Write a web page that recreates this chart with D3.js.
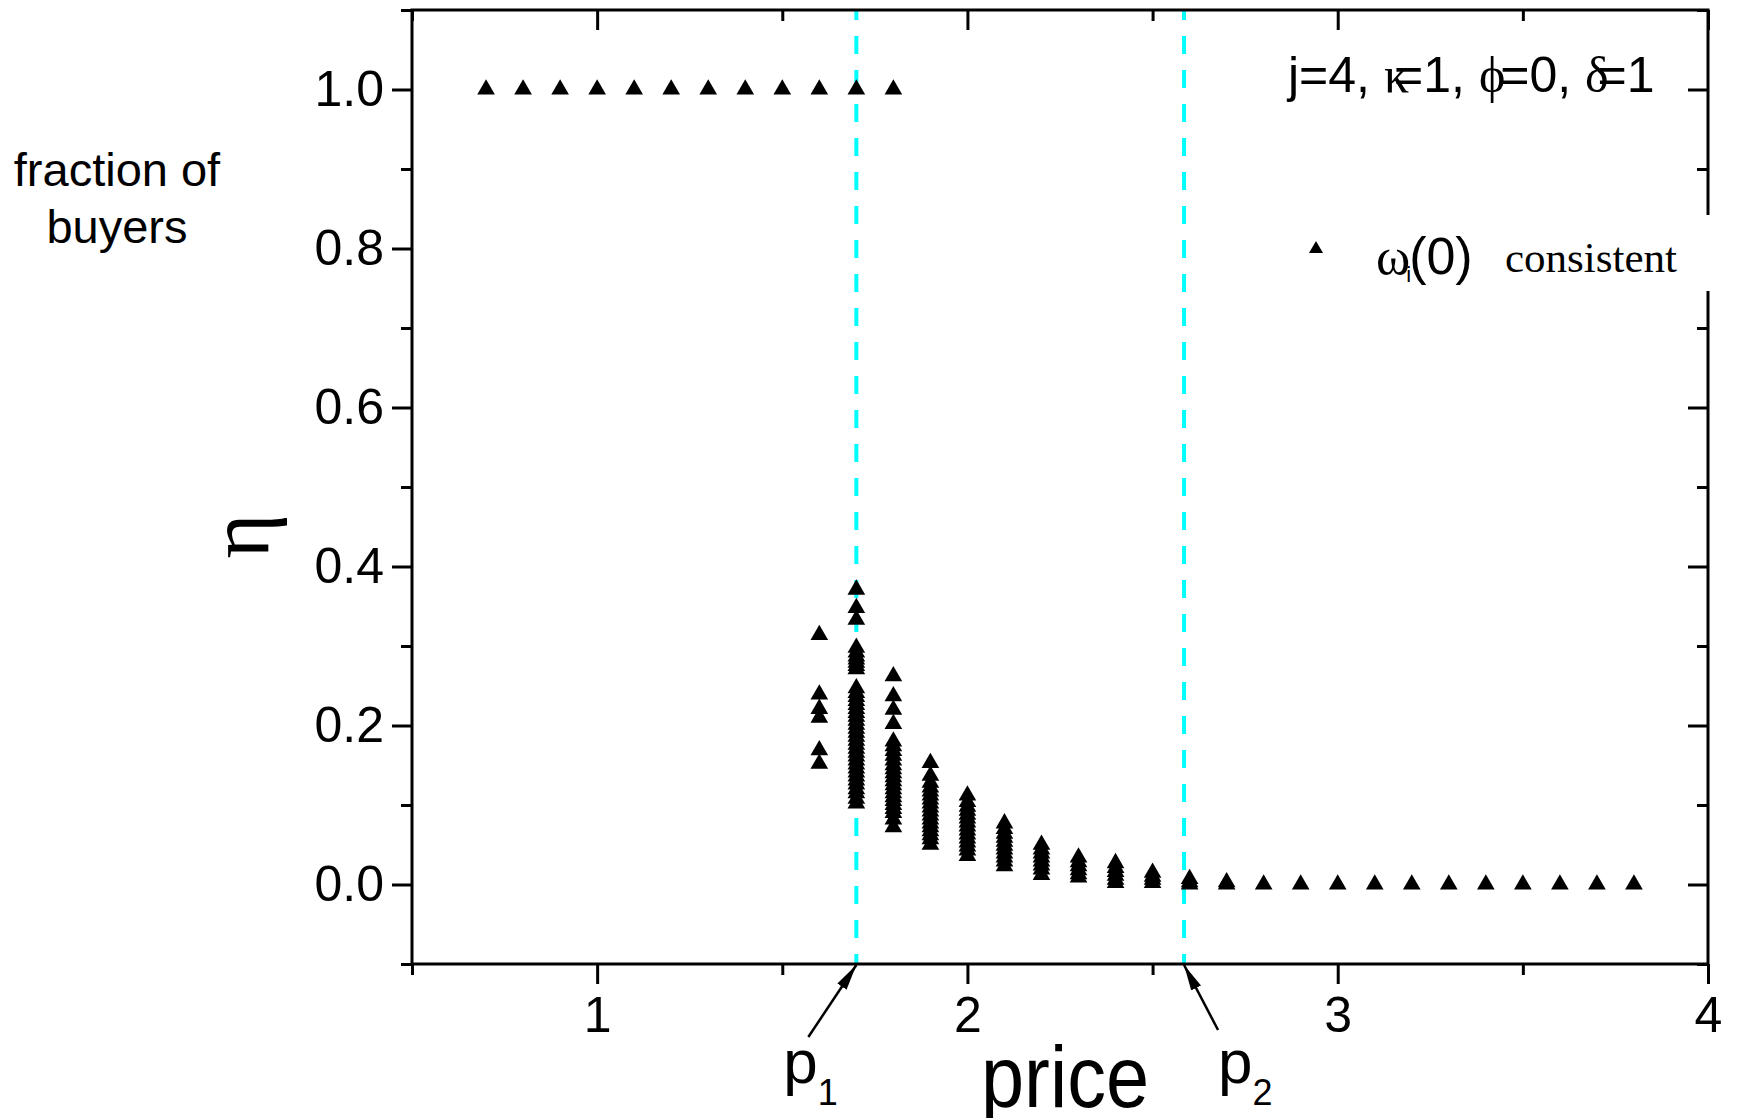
<!DOCTYPE html>
<html>
<head>
<meta charset="utf-8">
<script src="https://cdn.jsdelivr.net/npm/d3@7"></script>
<style>
	body { margin: 0; background: #fff; }
	svg { display: block; }
	text { font-family: "Liberation Sans", Arial, sans-serif; fill: #000; }
	.serif { font-family: "Liberation Serif", "DejaVu Serif", serif; }
</style>
</head>
<body>
<div id="chart"></div>
<script>
/**
 * Fraction of buyers vs price, consistent fixed points.
 */

// prices where everybody buys (eta = 1)
const pricesAllBuy = [0.7, 0.8, 0.9, 1.0, 1.1, 1.2, 1.3, 1.4, 1.5, 1.6, 1.7, 1.8];
// prices where nobody buys (eta = 0)
const pricesNoBuy = [2.8, 2.9, 3.0, 3.1, 3.2, 3.3, 3.4, 3.5, 3.6, 3.7, 3.8];

// columns of the transition region
const columnPrices = [1.6, 1.7, 1.8, 1.9, 2.0, 2.1, 2.2, 2.3, 2.4, 2.5, 2.6, 2.7];
const eta16 = [0.314, 0.239, 0.221, 0.210, 0.169, 0.152];
const eta17 = [0.371, 0.348, 0.333, 0.298, 0.292, 0.287, 0.283, 0.279, 0.275, 0.271,
	0.247, 0.241, 0.236, 0.231, 0.226, 0.221, 0.216, 0.211, 0.206, 0.201, 0.196, 0.191,
	0.186, 0.181, 0.176, 0.171, 0.166, 0.161, 0.156, 0.151, 0.146, 0.141, 0.136, 0.131,
	0.126, 0.120, 0.115, 0.108, 0.102];
const eta18 = [0.262, 0.237, 0.220, 0.202, 0.180, 0.174, 0.168, 0.162, 0.156, 0.150,
	0.145, 0.140, 0.135, 0.130, 0.125, 0.120, 0.115, 0.110, 0.105, 0.100, 0.095, 0.090,
	0.082, 0.072];
const eta19 = [0.153, 0.137, 0.128, 0.122, 0.117, 0.112, 0.107, 0.102, 0.097, 0.092,
	0.087, 0.082, 0.077, 0.072, 0.067, 0.062, 0.057, 0.050];
const eta20 = [0.112, 0.104, 0.098, 0.093, 0.088, 0.083, 0.078, 0.073, 0.068, 0.063,
	0.058, 0.053, 0.048, 0.043, 0.036];
const eta21 = [0.077, 0.070, 0.064, 0.059, 0.054, 0.049, 0.044, 0.039, 0.034, 0.029, 0.023];
const eta22 = [0.050, 0.044, 0.039, 0.034, 0.029, 0.024, 0.019, 0.012];
const eta23 = [0.034, 0.028, 0.023, 0.018, 0.013, 0.009];
const eta24 = [0.027, 0.021, 0.016, 0.011, 0.006, 0.002];
const eta25 = [0.015, 0.010, 0.006, 0.002];
const eta26 = [0.007, 0.003, 0.000];
const eta27 = [0.003, 0.000];
const columnEtas = [eta16, eta17, eta18, eta19, eta20, eta21, eta22, eta23, eta24, eta25, eta26, eta27];

// thresholds p1, p2
const thresholdPrices = [1.70, 2.585];
const thresholdNames = ["1", "2"];

// ticks
const priceTicks = [1, 2, 3, 4];
const priceMinorTicks = [0.5, 1.5, 2.5, 3.5];
const etaTicks = [0.0, 0.2, 0.4, 0.6, 0.8, 1.0];
const etaMinorTicks = [-0.1, 0.1, 0.3, 0.5, 0.7, 0.9, 1.1];


(function (d3) {
	"use strict";

	const totalWidth = 1743, totalHeight = 1118;
	const margin = { top: 10, right: 35, bottom: 154, left: 412 };
	const width = totalWidth - margin.left - margin.right;
	const height = totalHeight - margin.top - margin.bottom;

	const x = d3.scaleLinear().domain([0.5, 4]).range([0, width]);
	const y = d3.scaleLinear().domain([-0.1, 1.1]).range([height, 0]);

	const svg = d3.select("#chart")
		.append("svg")
		.attr("width", totalWidth)
		.attr("height", totalHeight);

	const g = svg.append("g")
		.attr("transform", "translate(" + margin.left + "," + margin.top + ")");

	// build point list from the arrays
	let points = pricesAllBuy.map(p => [p, 1.0]);
	columnPrices.forEach((p, i) => {
		columnEtas[i].forEach(e => points.push([p, e]));
	});
	pricesNoBuy.forEach(p => points.push([p, 0.0]));

	/*** dashed threshold lines ***/
	g.selectAll(".threshold")
		.data(thresholdPrices)
		.enter().append("line")
		.attr("class", "threshold")
		.attr("x1", d => x(d)).attr("x2", d => x(d))
		.attr("y1", 0).attr("y2", height)
		.attr("stroke", "#00ffff")
		.attr("stroke-width", 4)
		.attr("stroke-dasharray", "18,16")
		.attr("stroke-dashoffset", 8);

	/*** data ***/
	const triangle = d3.symbol().type(d3.symbolTriangle).size(135);
	g.selectAll(".pt")
		.data(points)
		.enter().append("path")
		.attr("class", "pt")
		.attr("d", triangle)
		.attr("fill", "#000")
		.attr("transform", d => "translate(" + x(d[0]) + "," + y(d[1]) + ")");

	/*** axes ***/
	function styleAxis(sel, labels) {
		sel.attr("font-size", 50).attr("font-family", null);
		sel.select(".domain").remove();
		sel.selectAll(".tick line").attr("stroke", "#000").attr("stroke-width", 3);
		if (!labels) sel.selectAll(".tick text").remove();
	}

	// bottom
	g.append("g").attr("transform", "translate(0," + height + ")")
		.call(d3.axisBottom(x).tickValues(priceTicks).tickSize(20).tickPadding(12).tickFormat(d3.format("d")))
		.call(styleAxis, true);
	g.append("g").attr("transform", "translate(0," + height + ")")
		.call(d3.axisBottom(x).tickValues(priceMinorTicks).tickSize(11))
		.call(styleAxis, false);
	// top (ticks inward)
	g.append("g")
		.call(d3.axisBottom(x).tickValues(priceTicks).tickSize(20))
		.call(styleAxis, false);
	g.append("g")
		.call(d3.axisBottom(x).tickValues(priceMinorTicks).tickSize(11))
		.call(styleAxis, false);
	// left
	g.append("g")
		.call(d3.axisLeft(y).tickValues(etaTicks).tickSize(20).tickPadding(8).tickFormat(d3.format(".1f")))
		.call(styleAxis, true);
	g.append("g")
		.call(d3.axisLeft(y).tickValues(etaMinorTicks).tickSize(11))
		.call(styleAxis, false);
	// right (ticks inward)
	g.append("g").attr("transform", "translate(" + width + ",0)")
		.call(d3.axisLeft(y).tickValues(etaTicks).tickSize(20))
		.call(styleAxis, false);
	g.append("g").attr("transform", "translate(" + width + ",0)")
		.call(d3.axisLeft(y).tickValues(etaMinorTicks).tickSize(11))
		.call(styleAxis, false);

	// frame
	g.append("rect")
		.attr("x", 0).attr("y", 0)
		.attr("width", width).attr("height", height)
		.attr("fill", "none")
		.attr("stroke", "#000")
		.attr("stroke-width", 3);

	/*** legend (white box hides the right axis) ***/
	svg.append("rect")
		.attr("x", 1290).attr("y", 215)
		.attr("width", 440).attr("height", 76)
		.attr("fill", "#fff");
	svg.append("path")
		.attr("d", d3.symbol().type(d3.symbolTriangle).size(85))
		.attr("transform", "translate(1316,249)");
	const leg = svg.append("text").attr("x", 1376).attr("y", 274).attr("font-size", 52);
	leg.append("tspan").attr("class", "serif").text("ω");
	leg.append("tspan").attr("font-size", 22).attr("dx", -4).attr("dy", 8).text("i");
	leg.append("tspan").attr("dx", -2).attr("dy", -8).text("(0)");
	svg.append("text")
		.attr("class", "serif")
		.attr("x", 1505).attr("y", 272)
		.attr("font-size", 43)
		.text("consistent");

	/*** parameters ***/
	const par = svg.append("text").attr("x", 1288).attr("y", 92).attr("font-size", 50);
	par.append("tspan").text("j=4, ");
	par.append("tspan").attr("class", "serif").text("κ");
	par.append("tspan").attr("dx", -15).text("=1, ");
	par.append("tspan").attr("class", "serif").text("ϕ");
	par.append("tspan").attr("dx", -5).text("=0, ");
	par.append("tspan").attr("class", "serif").text("δ");
	par.append("tspan").attr("dx", -11).text("=1");

	/*** axis titles ***/
	svg.append("text")
		.attr("class", "serif")
		.attr("font-size", 86)
		.attr("text-anchor", "middle")
		.attr("transform", "translate(268,536) rotate(-90)")
		.text("η");
	svg.append("text")
		.attr("font-size", 88)
		.attr("text-anchor", "middle")
		.attr("x", 1065).attr("y", 1107)
		.attr("textLength", 168)
		.attr("lengthAdjust", "spacingAndGlyphs")
		.text("price");
	const side = svg.append("text").attr("font-size", 47).attr("text-anchor", "middle");
	side.append("tspan").attr("x", 117).attr("y", 186).text("fraction of");
	side.append("tspan").attr("x", 117).attr("y", 243).text("buyers");

	/*** p1, p2 arrows ***/
	svg.append("defs").append("marker")
		.attr("id", "head")
		.attr("markerUnits", "userSpaceOnUse")
		.attr("markerWidth", 30).attr("markerHeight", 14)
		.attr("refX", 26).attr("refY", 7)
		.attr("orient", "auto")
		.append("path")
		.attr("d", "M0,1.5 L26,7 L0,12.5 Z")
		.attr("fill", "#000");

	const tailOffsets = [[-48, 73], [34, 66]];
	const labelOffsets = [[-73, 119], [34, 119]];
	thresholdPrices.forEach((p, i) => {
		const tx = margin.left + x(p);
		const ty = margin.top + height;
		svg.append("line")
			.attr("x1", tx + tailOffsets[i][0]).attr("y1", ty + tailOffsets[i][1])
			.attr("x2", tx).attr("y2", ty + 1)
			.attr("stroke", "#000")
			.attr("stroke-width", 2.5)
			.attr("marker-end", "url(#head)");
		const lab = svg.append("text")
			.attr("x", tx + labelOffsets[i][0]).attr("y", ty + labelOffsets[i][1])
			.attr("font-size", 62);
		lab.append("tspan").text("p");
		lab.append("tspan").attr("font-size", 36).attr("dy", 22).text(thresholdNames[i]);
	});

})(d3);
</script>
</body>
</html>
